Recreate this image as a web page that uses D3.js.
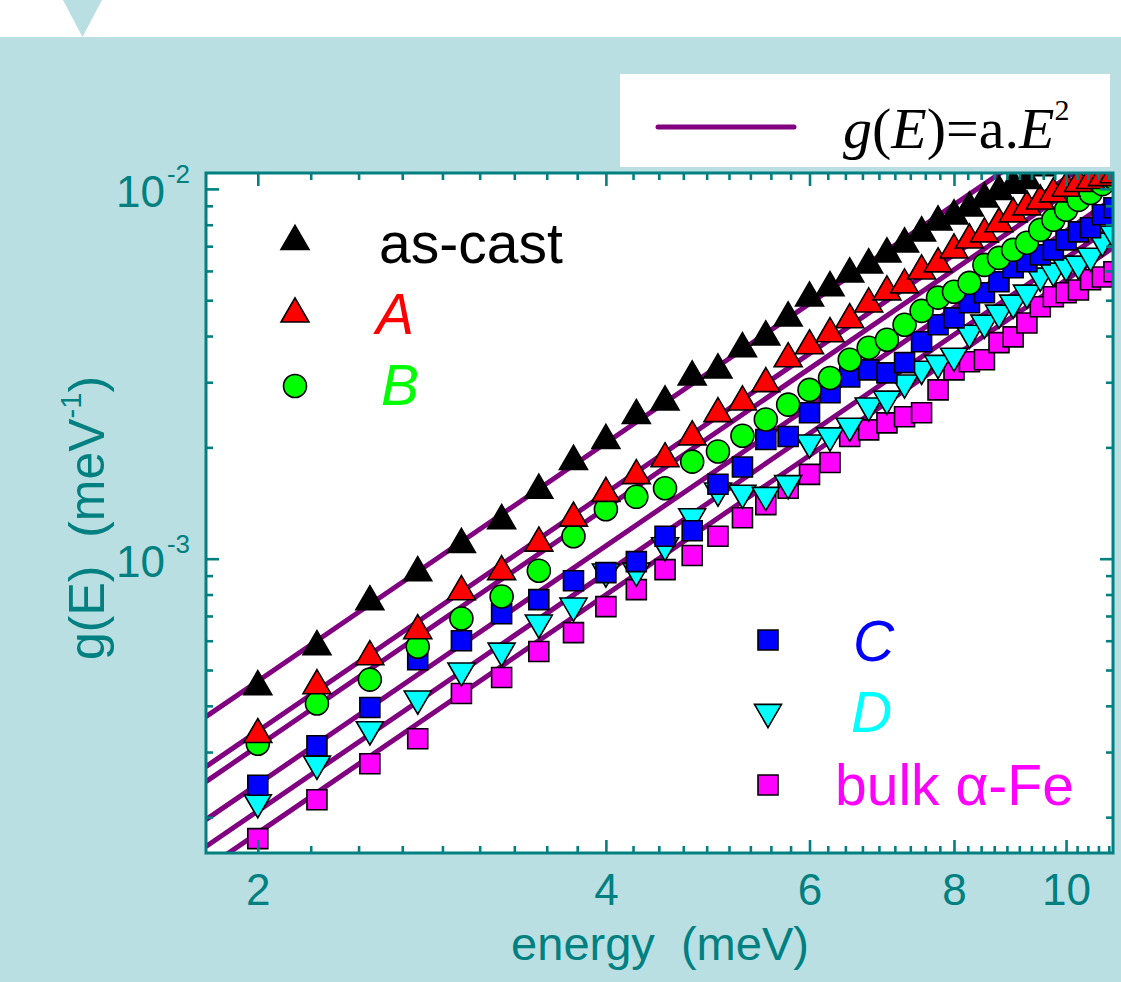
<!DOCTYPE html>
<html>
<head>
<meta charset="utf-8">
<script src="https://cdn.jsdelivr.net/npm/d3@7/dist/d3.min.js"></script>
<style>
  body { margin: 0; background: #fff; }
</style>
</head>
<body>
<svg id="chart" width="1121" height="982"></svg>
<script>
// energies (meV)
var energy = [2, 2.25, 2.5, 2.75, 3, 3.25, 3.5, 3.75, 4, 4.25, 4.5, 4.75, 5, 5.25, 5.5, 5.75, 6,
    6.25, 6.5, 6.75, 7, 7.25, 7.5, 7.75, 8, 8.25, 8.5, 8.75, 9, 9.25, 9.5, 9.75, 10, 10.25, 10.5, 10.75, 11];

// g(E), in units of 1e-3 meV^-1 (points above 1.1e-2 fall outside the frame)
var asCast = [0.462, 0.593, 0.784, 0.940, 1.12, 1.30, 1.57, 1.88, 2.14, 2.50, 2.72, 3.18, 3.32, 3.79, 4.08, 4.59, 5.20,
    5.54, 6.04, 6.39, 6.84, 7.28, 7.80, 8.35, 8.67, 9.11, 9.63, 10.1, 10.5, 10.8, 11.7, 12.4, 13.1, 13.8, 14.5, 15.2, 15.9];
var sampleA = [0.343, 0.465, 0.557, 0.655, 0.835, 0.946, 1.13, 1.32, 1.54, 1.72, 1.91, 2.19, 2.53, 2.72, 3.05, 3.56, 3.86,
    4.16, 4.54, 5.01, 5.40, 5.64, 6.15, 6.43, 7.01, 7.46, 7.75, 8.25, 8.78, 9.17, 9.51, 9.94, 10.3, 10.6, 10.8, 11.0, 11.2];
var sampleB = [0.316, 0.406, 0.471, 0.578, 0.689, 0.790, 0.928, 1.15, 1.36, 1.47, 1.55, 1.83, 1.95, 2.15, 2.38, 2.61, 2.86,
    3.08, 3.45, 3.72, 3.91, 4.29, 4.68, 5.08, 5.27, 5.57, 6.23, 6.51, 6.84, 7.15, 7.75, 8.25, 8.78, 9.34, 9.75, 10.3, 10.7];
var sampleC = [0.244, 0.312, 0.396, 0.533, 0.600, 0.710, 0.775, 0.872, 0.917, 0.982, 1.15, 1.19, 1.59, 1.77, 2.10, 2.14, 2.48,
    2.81, 3.10, 3.24, 3.18, 3.39, 3.86, 4.29, 4.48, 4.92, 5.24, 5.61, 6.12, 6.35, 6.63, 6.84, 7.28, 7.65, 7.85, 8.51, 8.89];
var sampleD = [0.214, 0.272, 0.337, 0.408, 0.486, 0.550, 0.655, 0.728, 0.900, 0.905, 1.06, 1.27, 1.49, 1.47, 1.45, 1.56, 2.01,
    2.10, 2.23, 2.53, 2.64, 2.92, 3.18, 3.30, 3.45, 3.98, 4.24, 4.51, 4.80, 5.11, 5.68, 5.86, 6.04, 6.12, 6.43, 7.06, 7.37];
var bulkFe = [0.175, 0.223, 0.279, 0.326, 0.432, 0.477, 0.561, 0.631, 0.742, 0.825, 0.934, 1.02, 1.15, 1.29, 1.40, 1.55, 1.69,
    1.82, 2.14, 2.23, 2.33, 2.42, 2.48, 2.86, 3.24, 3.41, 3.45, 3.84, 3.98, 4.34, 4.80, 5.11, 5.24, 5.33, 5.68, 5.78, 5.97];

// fitted g(E)=a.E^2 lines, value at the left and right end of the energy axis
var fitLeft = [0.374, 0.274, 0.2496, 0.197, 0.1666, 0.1453];
var fitRight = [17.84, 13.07, 11.90, 9.40, 7.94, 6.93];

var seriesNames = ['as-cast', 'A', 'B', 'C', 'D', 'bulk \u03b1-Fe'];
var seriesColors = ['#000000', '#ff0000', '#00ff00', '#0000ff', '#00ffff', '#ff00ff'];

var xTicks = [2, 4, 6, 8, 10];
var yTicks = [1, 10];
var yTickPowers = ['-3', '-2'];

var svg = d3.select('#chart');
var svgWidth = +svg.attr('width');
var svgHeight = +svg.attr('height');

var plot = {l: 206, r: 1113, t: 173, b: 853};
var teal = '#008080';
var bg = '#badfe2';
var sans = '"Liberation Sans", Arial, sans-serif';
var serif = '"Liberation Serif", "Times New Roman", serif';
var xDomain = [1.804, 10.98];

var x = d3.scaleLog().domain(xDomain).range([plot.l, plot.r]);
var y = d3.scaleLog().domain([0.160, 11.04]).range([plot.b, plot.t]);

// marker shapes, centred on their bounding box like Origin does
var triUp = {draw: function(ctx, s) { ctx.moveTo(0, -s * 0.43); ctx.lineTo(s / 2, s * 0.43); ctx.lineTo(-s / 2, s * 0.43); ctx.closePath(); }};
var triDown = {draw: function(ctx, s) { ctx.moveTo(0, s * 0.43); ctx.lineTo(s / 2, -s * 0.43); ctx.lineTo(-s / 2, -s * 0.43); ctx.closePath(); }};
var square = {draw: function(ctx, s) { ctx.rect(-s / 2, -s / 2, s, s); }};
var circle = {draw: function(ctx, s) { ctx.arc(0, 0, s / 2, 0, 2 * Math.PI); }};
var shapes = [triUp, triUp, circle, square, triDown, square];
var shapeSizes = [28, 28, 23, 20, 27, 20];

// background
svg.append('rect').attr('width', svgWidth).attr('height', svgHeight).attr('fill', bg);
svg.append('rect').attr('width', svgWidth).attr('height', 37).attr('fill', '#fff');
svg.append('path').attr('d', 'M63,0L102,0L82.5,37Z').attr('fill', bg);

svg.append('rect')
    .attr('x', plot.l).attr('y', plot.t)
    .attr('width', plot.r - plot.l).attr('height', plot.b - plot.t)
    .attr('fill', '#fff');

svg.append('clipPath').attr('id', 'clip')
    .append('rect')
    .attr('x', plot.l).attr('y', plot.t)
    .attr('width', plot.r - plot.l).attr('height', plot.b - plot.t);

var dataG = svg.append('g').attr('clip-path', 'url(#clip)');

// fit lines
var fitLine = d3.line().x(function(d) { return x(d[0]); }).y(function(d) { return y(d[1]); });
dataG.selectAll('path.fit')
    .data(fitLeft)
    .enter()
    .append('path')
    .attr('class', 'fit')
    .attr('d', function(d, i) { return fitLine([[xDomain[0], d], [xDomain[1], fitRight[i]]]); })
    .attr('stroke', '#800080')
    .attr('stroke-width', 5)
    .attr('fill', 'none');

// data markers, last series first so that the upper ones sit on top
var allSeries = [asCast, sampleA, sampleB, sampleC, sampleD, bulkFe];
d3.range(allSeries.length - 1, -1, -1).forEach(function(si) {
    dataG.append('g')
        .selectAll('path')
        .data(allSeries[si])
        .enter()
        .append('path')
        .attr('transform', function(d, i) { return 'translate(' + x(energy[i]) + ',' + y(d) + ')'; })
        .attr('d', d3.symbol().type(shapes[si]).size(shapeSizes[si]))
        .attr('fill', seriesColors[si])
        .attr('stroke', '#000')
        .attr('stroke-width', 1.6);
});

// axes
function styleAxis(g) {
    g.select('.domain').remove();
    g.selectAll('line').attr('stroke', teal).attr('stroke-width', 2.6);
    g.selectAll('text').attr('fill', teal);
    g.attr('font-size', 44).attr('font-family', sans);
}

var xMinor = [];
xTicks.forEach(function(t) {
    d3.range(1, 9).forEach(function(j) { xMinor.push(t + j * 2 / 9); });
});
xMinor = xMinor.filter(function(v) { return v < xDomain[1]; });
var yMinor = [];
[0.1, 1].forEach(function(base) { d3.range(2, 10).forEach(function(j) { yMinor.push(base * j); }); });

var bottomG = svg.append('g').attr('transform', 'translate(0,' + plot.b + ')')
    .call(d3.axisBottom(x).tickValues(xTicks).tickSize(-13).tickPadding(21).tickFormat(d3.format('d')));
styleAxis(bottomG);
svg.append('g').attr('transform', 'translate(0,' + plot.b + ')')
    .call(d3.axisBottom(x).tickValues(xMinor).tickSize(-7).tickFormat(''))
    .call(styleAxis);

svg.append('g').attr('transform', 'translate(0,' + plot.t + ')')
    .call(d3.axisTop(x).tickValues(xTicks).tickSize(-13).tickFormat(''))
    .call(styleAxis);
svg.append('g').attr('transform', 'translate(0,' + plot.t + ')')
    .call(d3.axisTop(x).tickValues(xMinor).tickSize(-7).tickFormat(''))
    .call(styleAxis);

var leftG = svg.append('g').attr('transform', 'translate(' + plot.l + ',0)')
    .call(d3.axisLeft(y).tickValues(yTicks).tickSize(-13).tickPadding(16));
styleAxis(leftG);
leftG.selectAll('.tick text').each(function(d, i) {
    var t = d3.select(this);
    t.text(null).attr('dy', '0.41em');
    t.append('tspan').text('10');
    t.append('tspan').attr('font-size', 26).attr('dy', -24).attr('dx', 2).text(yTickPowers[i]);
});
svg.append('g').attr('transform', 'translate(' + plot.l + ',0)')
    .call(d3.axisLeft(y).tickValues(yMinor).tickSize(-7).tickFormat(''))
    .call(styleAxis);

svg.append('g').attr('transform', 'translate(' + plot.r + ',0)')
    .call(d3.axisRight(y).tickValues(yTicks).tickSize(-13).tickFormat(''))
    .call(styleAxis);
svg.append('g').attr('transform', 'translate(' + plot.r + ',0)')
    .call(d3.axisRight(y).tickValues(yMinor).tickSize(-7).tickFormat(''))
    .call(styleAxis);

// frame
svg.append('rect')
    .attr('x', plot.l).attr('y', plot.t)
    .attr('width', plot.r - plot.l).attr('height', plot.b - plot.t)
    .attr('fill', 'none')
    .attr('stroke', teal)
    .attr('stroke-width', 3);

// axis titles
svg.append('text')
    .attr('x', 660).attr('y', 960)
    .attr('text-anchor', 'middle')
    .attr('font-size', 47)
    .attr('font-family', sans)
    .attr('fill', teal)
    .style('white-space', 'pre')
    .text('energy  (meV)');

var yTitle = svg.append('text')
    .attr('transform', 'translate(104,518) rotate(-90)')
    .attr('text-anchor', 'middle')
    .attr('font-size', 50)
    .attr('font-family', sans)
    .attr('fill', teal)
    .style('white-space', 'pre');
yTitle.append('tspan').text('g(E)  (meV');
yTitle.append('tspan').attr('font-size', 29).attr('dy', -23).text('-1');
yTitle.append('tspan').attr('dy', 23).text(')');

// legend of the samples
var legendItems = [
    {mx: 295, my: 237.5, tx: 379, ty: 263, italic: false},
    {mx: 295, my: 310, tx: 376, ty: 334, italic: true},
    {mx: 295, my: 386, tx: 381, ty: 405, italic: true},
    {mx: 768, my: 640, tx: 853, ty: 661, italic: true},
    {mx: 768, my: 716, tx: 851, ty: 732, italic: true},
    {mx: 768, my: 785, tx: 835, ty: 805, italic: false}
];
var legendG = svg.append('g');
legendItems.forEach(function(item, i) {
    legendG.append('path')
        .attr('transform', 'translate(' + item.mx + ',' + item.my + ')')
        .attr('d', d3.symbol().type(shapes[i]).size(shapeSizes[i]))
        .attr('fill', seriesColors[i])
        .attr('stroke', '#000')
        .attr('stroke-width', 1.6);
    legendG.append('text')
        .attr('x', item.tx).attr('y', item.ty)
        .attr('font-size', 57)
        .attr('font-family', sans)
        .attr('font-style', item.italic ? 'italic' : 'normal')
        .attr('fill', seriesColors[i])
        .text(seriesNames[i]);
});

// legend of the fit
svg.append('rect')
    .attr('x', 620).attr('y', 74)
    .attr('width', 490).attr('height', 93)
    .attr('fill', '#fff');
svg.append('line')
    .attr('x1', 658).attr('x2', 794)
    .attr('y1', 127).attr('y2', 127)
    .attr('stroke', '#800080')
    .attr('stroke-width', 5)
    .attr('stroke-linecap', 'round');
var fitText = svg.append('text')
    .attr('x', 843).attr('y', 148)
    .attr('font-size', 58)
    .attr('font-family', serif)
    .attr('fill', '#000');
fitText.append('tspan').attr('font-style', 'italic').text('g');
fitText.append('tspan').text('(');
fitText.append('tspan').attr('font-style', 'italic').text('E');
fitText.append('tspan').text(')=a.');
fitText.append('tspan').attr('font-style', 'italic').text('E');
fitText.append('tspan').attr('font-size', 30).attr('dy', -28).text('2');
</script>
</body>
</html>
